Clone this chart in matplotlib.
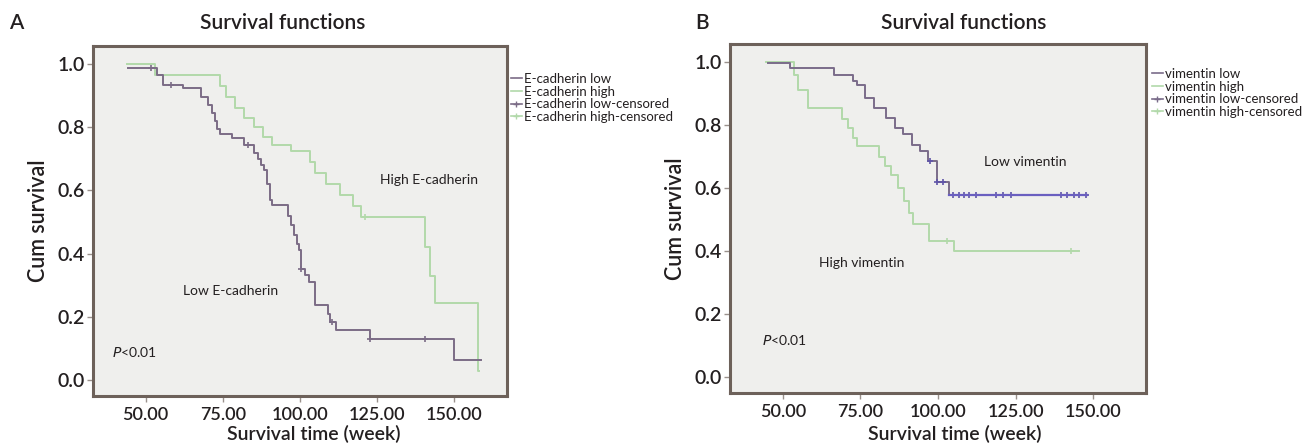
import matplotlib.pyplot as plt
import numpy as np
from matplotlib.lines import Line2D

plt.rcParams["font.family"] = ["Lato", "DejaVu Sans"]

# panel A: E-cadherin (time in weeks, survival after each step)
ecad_low_t = [44.4, 53.6, 55.7, 62.2, 68.0, 70.3, 71.5, 72.5, 73.0, 74.0, 78.0, 82.0, 85.0,
              86.5, 87.5, 88.5, 89.3, 90.2, 90.8, 96.1, 97.0, 98.0, 99.0, 99.6, 100.2, 101.5,
              103.0, 104.8, 109.1, 109.7, 111.8, 122.6, 149.8, 158.7]
ecad_low_s = [0.986, 0.965, 0.934, 0.923, 0.897, 0.870, 0.845, 0.820, 0.796, 0.780, 0.765, 0.744,
              0.720, 0.700, 0.680, 0.665, 0.620, 0.570, 0.554, 0.520, 0.490, 0.460, 0.430, 0.411,
              0.353, 0.332, 0.311, 0.237, 0.210, 0.185, 0.158, 0.129, 0.065, 0.065]
ecad_low_cens = [51.9, 58.4, 83.3, 100.4, 110.5, 122.8, 140.4]

ecad_high_t = [44.0, 53.0, 74.0, 76.0, 79.0, 82.0, 85.0, 88.0, 91.0, 97.0, 103.3, 105.0, 108.5,
               113.0, 117.0, 119.9, 140.4, 142.0, 143.6, 157.6, 158.0]
ecad_high_s = [1.0, 0.965, 0.930, 0.895, 0.860, 0.830, 0.800, 0.770, 0.745, 0.725, 0.690, 0.655,
               0.620, 0.585, 0.550, 0.517, 0.420, 0.330, 0.243, 0.030, 0.030]
ecad_high_cens = [121.0]

# panel B: vimentin
vim_low_t = [45.2, 52.2, 66.5, 72.5, 73.9, 76.5, 79.3, 83.3, 86.0, 88.7, 91.5, 94.2, 96.8,
             99.6, 103.7, 148.0]
vim_low_s = [0.997, 0.980, 0.958, 0.940, 0.928, 0.886, 0.854, 0.823, 0.790, 0.770, 0.738,
             0.717, 0.686, 0.620, 0.577, 0.577]
vim_low_cens = [97.5, 99.8, 101.5, 104.7, 106.9, 108.5, 110.1, 112.2, 118.6, 120.8, 123.5,
                139.6, 141.7, 143.8, 145.4, 147.6]

vim_high_t = [44.5, 53.5, 55.0, 58.0, 69.0, 71.0, 72.5, 74.0, 81.0, 83.0, 85.0, 87.0, 89.0,
              90.5, 92.0, 97.0, 105.0, 145.5]
vim_high_s = [1.0, 0.960, 0.910, 0.855, 0.820, 0.790, 0.760, 0.735, 0.700, 0.670, 0.640,
              0.600, 0.560, 0.520, 0.485, 0.433, 0.399, 0.399]
vim_high_cens = [103.0, 142.8]

XTICKS = [50, 75, 100, 125, 150]
YTICKS = [0.0, 0.2, 0.4, 0.6, 0.8, 1.0]

LOW_A = "#7b6c86"
LOW_B = "#7a6c8a"
LOW_B_TAIL = "#6a5fc0"
HIGH = "#b2d9aa"
SPINE = "#6d615a"
TXT = "#231f20"
W, H = 1316, 443


def step_value(t, s, x):
    i = np.searchsorted(t, x, side="right") - 1
    return s[max(i, 0)]


def km(ax, t, s, cens, color, lw=1.4, cens_color=None):
    ax.step(t, s, where="post", color=color, lw=lw)
    ys = [step_value(t, s, c) for c in cens]
    ax.plot(cens, ys, "+", color=cens_color or color, ms=5, mew=1.2, ls="none")


def setup(ax, xlab_x, xlab_y):
    ax.set_facecolor("#efefed")
    ax.set_xlim(33, 167)
    ax.set_ylim(-0.05, 1.057)
    ax.set_xticks(XTICKS, [f"{v:.2f}" for v in XTICKS])
    ax.set_yticks(YTICKS, [f"{v:.1f}" for v in YTICKS])
    ax.tick_params(labelsize=14, length=4, width=1, color="#9a918c", labelcolor=TXT)
    ax.tick_params(axis="x", labelsize=13, pad=4)
    ax.tick_params(axis="y", pad=2)
    for lab in ax.get_xticklabels() + ax.get_yticklabels():
        lab.set_fontweight(600)
    for sp in ax.spines.values():
        sp.set_color(SPINE)
        sp.set_linewidth(2.2)
    ax.set_ylabel("Cum survival", fontsize=15.5, color=TXT, fontweight=600, labelpad=6)
    ax.set_xlabel("Survival time (week)", fontsize=14, color=TXT, fontweight=600)
    ax.xaxis.set_label_coords(xlab_x, xlab_y)
    ax.xaxis.label.set_va("top")


def px_axes(fig, x0, y0, x1, y1):
    return fig.add_axes([x0 / W, 1 - y1 / H, (x1 - x0) / W, (y1 - y0) / H])


fig = plt.figure(figsize=(13.16, 4.43), dpi=100)

axA = px_axes(fig, 93, 46, 507, 396)
setup(axA, 0.534, -0.083)
km(axA, ecad_high_t, ecad_high_s, ecad_high_cens, HIGH)
km(axA, ecad_low_t, ecad_low_s, ecad_low_cens, LOW_A)
axA.text(125.8, 0.633, "High E-cadherin", fontsize=10, va="center", color=TXT)
axA.text(62, 0.283, "Low E-cadherin", fontsize=10, va="center", color=TXT)
axA.text(39, 0.09, "$P$<0.01", fontsize=10, va="center", color=TXT)

axB = px_axes(fig, 730, 44, 1146, 393)
setup(axB, 0.541, -0.092)
km(axB, vim_high_t, vim_high_s, vim_high_cens, HIGH)
km(axB, vim_low_t, vim_low_s, vim_low_cens, LOW_B, cens_color="#5f55a8")
axB.plot(vim_low_t[-2:], vim_low_s[-2:], color=LOW_B_TAIL, lw=1.6)
axB.text(114.8, 0.684, "Low vimentin", fontsize=10, va="center", color=TXT)
axB.text(61.7, 0.362, "High vimentin", fontsize=10, va="center", color=TXT)
axB.text(43.4, 0.117, "$P$<0.01", fontsize=10, va="center", color=TXT)

for x, txt in [(283, "Survival functions"), (964, "Survival functions")]:
    fig.text(x / W, 1 - 23 / H, txt, fontsize=15, ha="center", va="center",
             color=TXT, fontweight=600)
fig.text(16 / W, 1 - 23 / H, "A", fontsize=15, ha="center", va="center", color=TXT, fontweight=600)
fig.text(702 / W, 1 - 23 / H, "B", fontsize=15, ha="center", va="center", color=TXT, fontweight=600)


def side_legend(x, y, names, low_color):
    handles = [
        Line2D([], [], color=low_color, lw=1.2),
        Line2D([], [], color=HIGH, lw=1.2),
        Line2D([], [], color=low_color, lw=1.2, marker="+", ms=5),
        Line2D([], [], color=HIGH, lw=1.2, marker="+", ms=5),
    ]
    leg = fig.legend(handles, names, loc="upper left", bbox_to_anchor=(x / W, 1 - y / H),
                     frameon=False, fontsize=9.5, handlelength=0.8, handletextpad=0.2,
                     labelspacing=0.05, borderpad=0, borderaxespad=0)
    for t in leg.get_texts():
        t.set_color(TXT)


side_legend(511, 73, ["E-cadherin low", "E-cadherin high", "E-cadherin low-censored",
                      "E-cadherin high-censored"], LOW_A)
side_legend(1152, 68, ["vimentin low", "vimentin high", "vimentin low-censored",
                       "vimentin high-censored"], LOW_B)

fig.savefig("out.png", dpi=100, facecolor="white")
